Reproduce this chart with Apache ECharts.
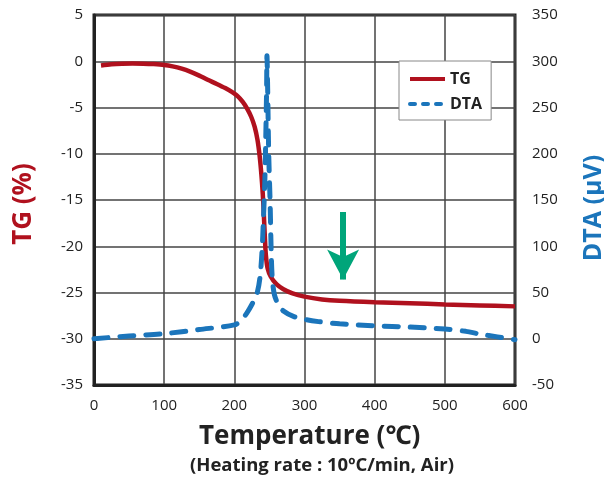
<!DOCTYPE html>
<html>
<head>
<meta charset="utf-8">
<script src="https://cdn.jsdelivr.net/npm/echarts@6/dist/echarts.min.js"></script>
<style>html,body{margin:0;padding:0;background:#fff}#c{width:604px;height:479px}</style>
</head>
<body>
<div id="c"></div>
<script>
const xTicks = [0, 100, 200, 300, 400, 500, 600];
const tgTicks = [-35, 5];
const dtaTicks = [-50, 350];
const tgData = [[10,-0.45],[25,-0.32],[40,-0.26],[55,-0.24],[70,-0.26],[85,-0.31],[100,-0.4],[112,-0.55],[125,-0.8],[137,-1.12],[150,-1.55],[162,-2.0],[175,-2.45],[187,-2.9],[197,-3.35],[205,-3.8],[212,-4.4],[218,-5.1],[224,-6.0],[229,-7.1],[233,-8.5],[236,-10.2],[238.5,-12.2],[240.5,-14.3],[242,-16.5],[243.5,-19],[245,-21],[247.5,-22.4],[252,-23.3],[260,-24.1],[270,-24.65],[283,-25.1],[300,-25.45],[325,-25.75],[350,-25.9],[400,-26.05],[450,-26.15],[500,-26.3],[550,-26.4],[600,-26.5]];
const dtaData = [[0,0],[50,3],[100,5.5],[150,10],[200,15],[210,20],[218,28],[225,37],[232,48],[236.5,66],[239.5,95],[241.5,130],[243.5,172],[245,225],[246,270],[246.5,306],[247.5,270],[249,200],[251,147],[252.5,95],[254,66],[257,48],[262,38],[270,30],[285,24],[303,20.5],[320,18.5],[350,16.2],[400,14],[450,12.6],[500,10.5],[530,8],[550,5],[575,2],[600,-1]];
const arrowFrom = [355, -16.3];
const arrowTo = [355, -23.6];
const FONT = '"Open Sans", "Noto Sans", sans-serif';
const RED = '#b0111e', BLUE = '#1b75bb', GREEN = '#00a57a';

const chart = echarts.init(document.getElementById('c'), null, {renderer: 'canvas'});
chart.setOption({
  animation: false,
  textStyle: {fontFamily: FONT},
  grid: {left: 94, right: 89, top: 15, bottom: 94, show: true, borderColor: '#222', borderWidth: 3, backgroundColor: 'transparent'},
  legend: {
    left: 399, top: 61, orient: 'vertical',
    padding: [10, 9, 8, 9], itemGap: 9, itemWidth: 35, itemHeight: 14,
    borderColor: '#888', borderWidth: 1, backgroundColor: '#fff',
    itemStyle: {opacity: 0},
    textStyle: {fontFamily: FONT, fontSize: 16, fontWeight: 'bold', color: '#222'},
    data: [
      {name: 'TG', lineStyle: {width: 4, color: RED, type: 'solid'}},
      {name: 'DTA', lineStyle: {width: 4, color: BLUE, type: [5, 8], cap: 'round'}}
    ]
  },
  xAxis: {
    type: 'value', min: xTicks[0], max: xTicks[xTicks.length - 1], interval: 100,
    axisLine: {show: true, onZero: false, lineStyle: {color: '#222', width: 3}},
    axisTick: {show: false},
    axisLabel: {fontSize: 15, color: '#222', margin: 13},
    splitLine: {show: true, lineStyle: {color: '#444', width: 1.5}}
  },
  yAxis: [{
    type: 'value', min: tgTicks[0], max: tgTicks[1], interval: 5,
    axisLine: {show: true, onZero: false, lineStyle: {color: '#222', width: 3}},
    axisTick: {show: false},
    axisLabel: {fontSize: 15, color: '#222', margin: 11},
    splitLine: {show: true, lineStyle: {color: '#444', width: 1.5}}
  }, {
    type: 'value', min: dtaTicks[0], max: dtaTicks[1], interval: 50, position: 'right',
    axisLine: {show: false},
    axisTick: {show: false},
    axisLabel: {fontSize: 15, color: '#222', margin: 17},
    splitLine: {show: false}
  }],
  graphic: [
    {type: 'text', left: 199, top: 424, style: {text: 'Temperature (℃)', font: 'bold 26px ' + FONT, fill: '#222'}},
    {type: 'text', left: 190, top: 456, style: {text: '(Heating rate : 10ºC/min, Air)', font: 'bold 18.5px ' + FONT, fill: '#222'}},
    {type: 'text', x: 11, y: 204, rotation: Math.PI / 2, style: {text: 'TG (%)', font: 'bold 26px ' + FONT, fill: RED, align: 'center', verticalAlign: 'top'}},
    {type: 'text', x: 581, y: 208, rotation: Math.PI / 2, style: {text: 'DTA (μV)', font: 'bold 25px ' + FONT, fill: BLUE, align: 'center', verticalAlign: 'top'}}
  ],
  series: [{
    name: 'TG', type: 'line', yAxisIndex: 0, data: tgData, smooth: 0.3,
    showSymbol: false, symbol: 'none',
    lineStyle: {color: RED, width: 4.5}, itemStyle: {color: RED},
    markLine: {
      silent: true, symbol: ['none', 'arrow'], symbolSize: [24, 30],
      label: {show: false},
      lineStyle: {color: GREEN, width: 6, type: 'solid'},
      data: [[{coord: arrowFrom}, {coord: arrowTo}]]
    }
  }, {
    name: 'DTA', type: 'line', yAxisIndex: 1, data: dtaData, smooth: 0.3,
    showSymbol: false, symbol: 'none',
    lineStyle: {color: BLUE, width: 5, type: [14, 12], cap: 'round'}, itemStyle: {color: BLUE}
  }]
});
</script>
</body>
</html>
